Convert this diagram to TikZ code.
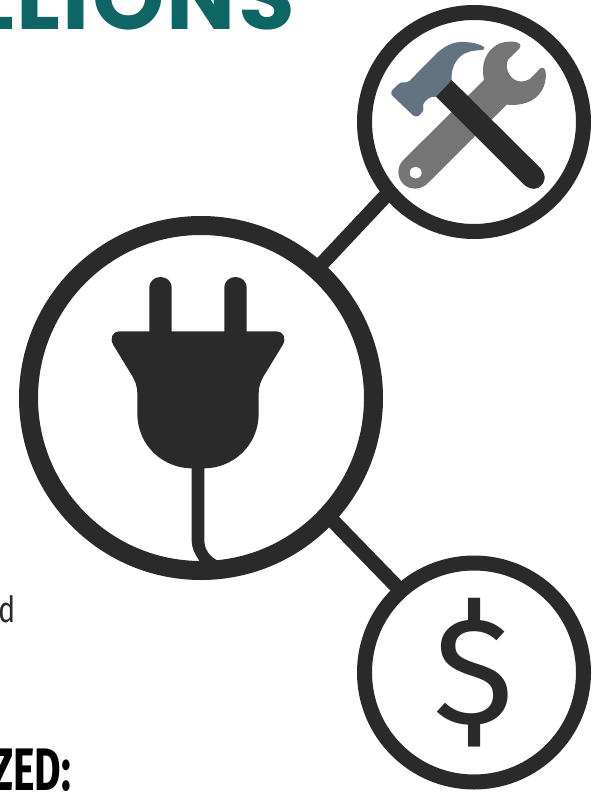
\documentclass[tikz,border=0pt]{standalone}
\usepackage{fontspec}
\usetikzlibrary{positioning}
\newfontfamily\titlefont[LetterSpace=2.5]{Poppins}
\newfontfamily\headfont[FakeStretch=0.68]{Fira Sans}
\newfontfamily\bodyfont[FakeStretch=0.8]{Fira Sans}
\newfontfamily\signfont{Fira Sans}
\definecolor{inkdark}{HTML}{2B2A2B}
\definecolor{titleteal}{HTML}{0E6664}
\definecolor{hammerblue}{HTML}{637381}
\definecolor{wrenchgray}{HTML}{757575}
\tikzset{
ringsmall/.style={circle,draw=inkdark,line width=15pt,minimum size=219pt,inner sep=0pt},
ringlarge/.style={circle,draw=inkdark,line width=19pt,minimum size=345pt,inner sep=0pt},
linkline/.style={draw=inkdark,line width=14.6pt,shorten <=-6pt,shorten >=-6pt},
textpiece/.style={inner sep=0pt,anchor=base west}
}
\begin{document}
\begin{tikzpicture}[x=1pt,y=-1pt]
\useasboundingbox (0,0) rectangle (602,792);
\clip (0,0) rectangle (602,792);
% texts cut by the page edge
\node[textpiece,text=titleteal,font=\titlefont\bfseries\fontsize{92}{92}\selectfont] (title) at (-30,30) {LLIONS};
\node[textpiece,text=inkdark,font=\bodyfont\fontsize{36}{36}\selectfont] (word) at (-2,622) {d};
\node[textpiece,text=black,font=\headfont\bfseries\fontsize{60}{60}\selectfont] (head) at (-9,790) {ZED:};
% the three rings
\node[ringlarge] (plug) at (201,398) {};
\node[ringsmall] (tools) at (474,122) {};
\node[ringsmall,text=inkdark,font=\signfont\fontsize{152}{152}\selectfont] (money) at (474,672.5) {\$};
\draw[linkline] (plug.48.6)--(tools.220.5);
\draw[linkline] (plug.-43.4)--(money.132);
% plug
\begin{scope}[shift={(90,260)},scale=1/3]
\fill[inkdark] (178,214)--(178,84) .. controls (178,40) and (245,40) .. (245,84)--(245,214)--(403,214)--(403,84) .. controls (403,40) and (470,40) .. (470,84)--(470,214)--(560,214) .. controls (580,214) and (590,235) .. (578,255)--(525,342) .. controls (512,362) and (506,380) .. (506,400)--(506,460) .. controls (506,560) and (425,625) .. (343,625)--(343,840) .. controls (343,870) and (360,892) .. (390,905)--(332,908) .. controls (320,890) and (305,870) .. (305,840)--(305,625) .. controls (223,625) and (142,560) .. (142,460)--(142,400) .. controls (142,380) and (136,362) .. (123,342)--(70,255) .. controls (58,235) and (68,214) .. (88,214)--cycle;
\end{scope}
% wrench and hammer
\begin{scope}[shift={(350,0)},scale=1/3]
\fill[wrenchgray,even odd rule] (160,480)--(402,240) .. controls (392,195) and (405,150) .. (450,130) .. controls (470,123) and (490,123) .. (503,128) .. controls (513,132) and (514,140) .. (508,146)--(475,178) .. controls (465,195) and (472,225) .. (492,238) .. controls (512,250) and (530,243) .. (542,235)--(570,206) .. controls (577,200) and (585,205) .. (587,215) .. controls (592,255) and (570,295) .. (530,308) .. controls (510,315) and (490,316) .. (470,314)--(235,548) .. controls (215,570) and (180,572) .. (160,552) .. controls (140,532) and (140,500) .. (160,480)--cycle (179,518) .. controls (179,494) and (215,494) .. (215,518) .. controls (215,542) and (179,542) .. (179,518)--cycle;
\fill[hammerblue] (403,143) .. controls (395,132) and (360,125) .. (330,126) .. controls (300,128) and (275,145) .. (255,165)--(178,243) .. controls (170,250) and (165,245) .. (155,247) .. controls (145,250) and (135,262) .. (125,272) .. controls (120,280) and (125,285) .. (130,290)--(188,345) .. controls (197,352) and (205,350) .. (212,342) .. controls (222,332) and (222,325) .. (219,315) .. controls (225,300) and (240,288) .. (258,290)--(305,240) .. controls (302,210) and (315,175) .. (345,160) .. controls (365,150) and (385,152) .. (400,149) .. controls (403,148) and (404,146) .. (403,143)--cycle;
\fill[inkdark] (305,240)--(572,505) .. controls (590,525) and (587,550) .. (565,563) .. controls (548,572) and (530,562) .. (520,552)--(258,290)--cycle;
\end{scope}
\end{tikzpicture}
\end{document}
